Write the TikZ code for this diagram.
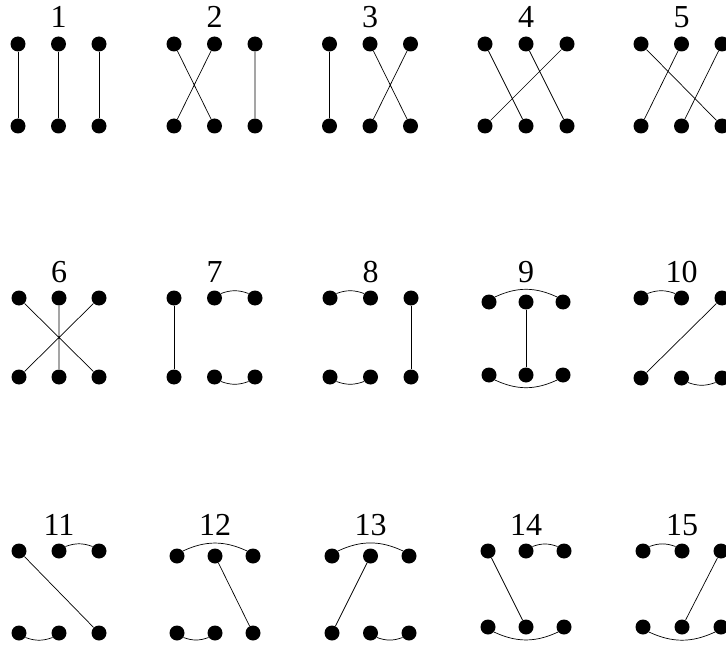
\documentclass[tikz,border=0pt]{standalone}
\usepackage{fontspec}
\setmainfont{Liberation Serif}
\usepackage{tikz}

% one diagram: name, left x, gap, top y, bottom y, label y, label
\newcommand{\brauerdots}[7]{%
  \foreach \k in {1,2,3} {
    \node[dot] (#1t\k) at ({#2+(\k-1)*#3},#4) {};
    \node[dot] (#1b\k) at ({#2+(\k-1)*#3},#5) {};
  }
  \node[num] (#1lab) at ({#2+#3},#6) {#7};
}

\begin{document}
\begin{tikzpicture}[x=1pt, y=-1pt, line width=0.7pt,
    dot/.style={circle, fill=black, inner sep=0pt, minimum size=15pt},
    num/.style={anchor=base, inner sep=0pt, font=\fontsize{32}{32}\selectfont},
    archup/.style={bend left=20},
    archdown/.style={bend right=20},
    bigarchup/.style={bend left=25},
    bigarchdown/.style={bend right=25}]
    \useasboundingbox (0,0) rectangle (726,650);

    % first row
    \brauerdots{d1}{18}{40.5}{44}{126}{28}{1}
    \brauerdots{d2}{174}{40.5}{44}{126}{28}{2}
    \brauerdots{d3}{329.5}{40.5}{44}{126}{28}{3}
    \brauerdots{d4}{485}{41}{44}{126}{28}{4}
    \brauerdots{d5}{641}{40.5}{44}{126}{28}{5}

    \draw (d1t1) -- (d1b1) (d1t2) -- (d1b2) (d1t3) -- (d1b3);
    \draw (d2t1) -- (d2b2) (d2t2) -- (d2b1) (d2t3) -- (d2b3);
    \draw (d3t1) -- (d3b1) (d3t2) -- (d3b3) (d3t3) -- (d3b2);
    \draw (d4t1) -- (d4b2) (d4t2) -- (d4b3) (d4t3) -- (d4b1);
    \draw (d5t1) -- (d5b3) (d5t2) -- (d5b1) (d5t3) -- (d5b2);

    % second row
    \brauerdots{d6}{19}{40}{298}{377}{282}{6}
    \brauerdots{d7}{174}{40.5}{298}{377}{282}{7}
    \brauerdots{d8}{330}{40.5}{298}{377}{282}{8}
    \brauerdots{d9}{489}{37}{302}{375}{282}{9}
    \brauerdots{d10}{641}{40.5}{298}{378}{282}{10}

    \draw (d6t1) -- (d6b3) (d6t2) -- (d6b2) (d6t3) -- (d6b1);
    \draw (d7t1) -- (d7b1);
    \draw (d7t2.35) to[archup] (d7t3.145);
    \draw (d7b2.-35) to[archdown] (d7b3.-145);
    \draw (d8t1.35) to[archup] (d8t2.145);
    \draw (d8b1.-35) to[archdown] (d8b2.-145);
    \draw (d8t3) -- (d8b3);
    \draw (d9t1.40) to[bigarchup] (d9t3.140);
    \draw (d9t2) -- (d9b2);
    \draw (d9b1.-40) to[bigarchdown] (d9b3.-140);
    \draw (d10t1.35) to[archup] (d10t2.145);
    \draw (d10t3) -- (d10b1);
    \draw (d10b2.-35) to[archdown] (d10b3.-145);

    % third row
    \brauerdots{d11}{19}{40}{551}{633}{535}{11}
    \brauerdots{d12}{177}{38}{556}{633}{535}{12}
    \brauerdots{d13}{332}{38.5}{556}{633}{535}{13}
    \brauerdots{d14}{488}{38}{551}{627}{535}{14}
    \brauerdots{d15}{643}{39}{551}{627}{535}{15}

    \draw (d11t1) -- (d11b3);
    \draw (d11t2.35) to[archup] (d11t3.145);
    \draw (d11b1.-35) to[archdown] (d11b2.-145);
    \draw (d12t1.40) to[bigarchup] (d12t3.140);
    \draw (d12t2) -- (d12b3);
    \draw (d12b1.-35) to[archdown] (d12b2.-145);
    \draw (d13t1.40) to[bigarchup] (d13t3.140);
    \draw (d13t2) -- (d13b1);
    \draw (d13b2.-35) to[archdown] (d13b3.-145);
    \draw (d14t1) -- (d14b2);
    \draw (d14t2.35) to[archup] (d14t3.145);
    \draw (d14b1.-40) to[bigarchdown] (d14b3.-140);
    \draw (d15t1.35) to[archup] (d15t2.145);
    \draw (d15t3) -- (d15b2);
    \draw (d15b1.-40) to[bigarchdown] (d15b3.-140);
\end{tikzpicture}
\end{document}
